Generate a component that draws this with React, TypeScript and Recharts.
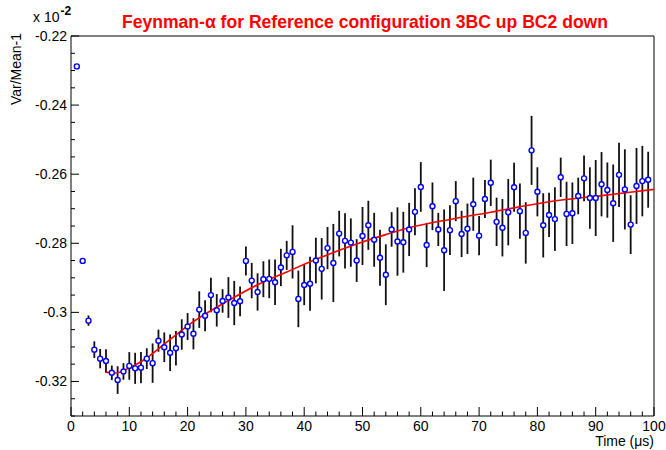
import { ComposedChart, Scatter, Line, XAxis, YAxis, ErrorBar, ReferenceLine } from 'recharts'

// Feynman-alpha measurement, one point per microsecond gate
const times = [
  1, 2, 3, 4, 5, 6, 7, 8, 9, 10, 11, 12, 13, 14, 15, 16, 17, 18, 19, 20,
  21, 22, 23, 24, 25, 26, 27, 28, 29, 30, 31, 32, 33, 34, 35, 36, 37, 38, 39, 40,
  41, 42, 43, 44, 45, 46, 47, 48, 49, 50, 51, 52, 53, 54, 55, 56, 57, 58, 59, 60,
  61, 62, 63, 64, 65, 66, 67, 68, 69, 70, 71, 72, 73, 74, 75, 76, 77, 78, 79, 80,
  81, 82, 83, 84, 85, 86, 87, 88, 89, 90, 91, 92, 93, 94, 95, 96, 97, 98, 99,
]

const varMean = [
  -0.2288, -0.2851, -0.3024, -0.3108, -0.3134, -0.3141, -0.3175, -0.3196, -0.3171, -0.3155,
  -0.3162, -0.316, -0.3134, -0.3147, -0.3082, -0.3101, -0.3117, -0.3104, -0.3064, -0.3041,
  -0.3062, -0.2992, -0.301, -0.295, -0.2994, -0.2967, -0.2957, -0.2973, -0.2968, -0.2851,
  -0.2908, -0.2941, -0.2904, -0.2903, -0.2913, -0.287, -0.2835, -0.2825, -0.2961, -0.2921,
  -0.2917, -0.285, -0.2874, -0.2814, -0.2857, -0.2772, -0.2793, -0.2798, -0.285, -0.2779,
  -0.2748, -0.279, -0.2842, -0.2891, -0.276, -0.2795, -0.2797, -0.276, -0.2709, -0.2637,
  -0.2805, -0.2693, -0.276, -0.282, -0.2762, -0.2678, -0.2773, -0.2758, -0.2687, -0.2778,
  -0.2672, -0.2625, -0.2738, -0.2755, -0.271, -0.2638, -0.2707, -0.277, -0.2531, -0.2651,
  -0.2748, -0.2718, -0.273, -0.2609, -0.2715, -0.2713, -0.2663, -0.2612, -0.2669, -0.2669,
  -0.2629, -0.2646, -0.2684, -0.2602, -0.2644, -0.2746, -0.2634, -0.262, -0.2616,
]

const varMeanErr = [
  0.0003, 0.0008, 0.0015, 0.0024, 0.0028, 0.0034, 0.0021, 0.004, 0.0024, 0.004,
  0.0045, 0.0045, 0.003, 0.0057, 0.0032, 0.0043, 0.0053, 0.005, 0.0044, 0.0039,
  0.0045, 0.0053, 0.0045, 0.005, 0.0047, 0.0034, 0.0059, 0.0064, 0.0043, 0.0042,
  0.0051, 0.0054, 0.0052, 0.0056, 0.0066, 0.0054, 0.0042, 0.0077, 0.0082, 0.0058,
  0.0078, 0.0066, 0.0089, 0.0061, 0.0113, 0.0066, 0.008, 0.007, 0.0062, 0.0084,
  0.0071, 0.0078, 0.0081, 0.0088, 0.005, 0.0099, 0.0088, 0.0077, 0.0068, 0.0072,
  0.0064, 0.0069, 0.0048, 0.0118, 0.0072, 0.0058, 0.0067, 0.0073, 0.0077, 0.0057,
  0.0055, 0.0067, 0.007, 0.0083, 0.0096, 0.0071, 0.008, 0.0089, 0.01, 0.0071,
  0.0093, 0.0064, 0.0092, 0.0057, 0.0093, 0.0089, 0.0053, 0.0066, 0.0089, 0.011,
  0.0093, 0.008, 0.0112, 0.0093, 0.0116, 0.0085, 0.011, 0.0102, 0.0081,
]

// fitted curve
const fitTimes = [6, 7.5, 10, 13, 16, 21, 27, 32, 37, 43, 49, 54, 59, 65, 72, 82, 91, 100]
const fitValues = [
  -0.3173, -0.3176, -0.3161, -0.3132, -0.3092, -0.3027, -0.2966, -0.292, -0.2883,
  -0.284, -0.2802, -0.2775, -0.2751, -0.2731, -0.271, -0.268, -0.2662, -0.2644,
]

const xTicks = [
  0, 2, 4, 6, 8, 10, 12, 14, 16, 18, 20, 22, 24, 26, 28, 30, 32, 34, 36, 38, 40, 42, 44, 46, 48, 50,
  52, 54, 56, 58, 60, 62, 64, 66, 68, 70, 72, 74, 76, 78, 80, 82, 84, 86, 88, 90, 92, 94, 96, 98, 100,
]
const xMajor = [0, 10, 20, 30, 40, 50, 60, 70, 80, 90, 100]

const yTicks = [
  -0.33, -0.325, -0.32, -0.315, -0.31, -0.305, -0.3, -0.295, -0.29, -0.285, -0.28, -0.275,
  -0.27, -0.265, -0.26, -0.255, -0.25, -0.245, -0.24, -0.235, -0.23, -0.225, -0.22,
]
const yMajor = [-0.32, -0.3, -0.28, -0.26, -0.24, -0.22]
const yMajorLabels = ['-0.32', '-0.3', '-0.28', '-0.26', '-0.24', '-0.22']

const points = times.map((t, i) => ({ x: t, y: varMean[i], err: varMeanErr[i] }))
const fit = fitTimes.map((t, i) => ({ x: t, y: fitValues[i] }))

const FONT = '"Liberation Sans", Arial, Helvetica, sans-serif'

const XTick = ({ x, y, payload }: any) => {
  const major = xMajor.includes(payload.value)
  return (
    <g>
      <line x1={x} y1={y} x2={x} y2={y - (major ? 9 : 4.5)} stroke="#000" strokeWidth={1} />
      {major && (
        <text x={x} y={y + 15} textAnchor="middle" fontSize={14} fontFamily={FONT} fill="#000">
          {payload.value}
        </text>
      )}
    </g>
  )
}

const YTick = ({ x, y, payload }: any) => {
  const idx = yMajor.findIndex(v => Math.abs(v - payload.value) < 1e-6)
  const major = idx >= 0
  return (
    <g>
      <line x1={x} y1={y} x2={x + (major ? 8 : 4)} y2={y} stroke="#000" strokeWidth={1} />
      {major && (
        <text x={x - 4} y={y + 5} textAnchor="end" fontSize={14} fontFamily={FONT} fill="#000">
          {yMajorLabels[idx]}
        </text>
      )}
    </g>
  )
}

const Marker = ({ cx, cy }: any) => (
  <circle cx={cx} cy={cy} r={2.5} fill="#fff" stroke="#0000ff" strokeWidth={1.4} />
)

export default function App() {
  return (
    <div style={{ position: 'absolute', left: 0, top: 0, width: 666, height: 450, background: '#fff' }}>
      <ComposedChart width={666} height={450} margin={{ top: 36, right: 12, bottom: 0, left: 0 }}>
        <XAxis
          type="number"
          dataKey="x"
          domain={[0, 100]}
          ticks={xTicks}
          interval={0}
          allowDataOverflow
          height={34}
          tickSize={0}
          tickMargin={0}
          tickLine={false}
          axisLine={{ stroke: '#000', strokeWidth: 1 }}
          tick={<XTick />}
        />
        <YAxis
          type="number"
          domain={[-0.33, -0.22]}
          ticks={yTicks}
          interval={0}
          allowDataOverflow
          width={71}
          tickSize={0}
          tickMargin={0}
          tickLine={false}
          axisLine={{ stroke: '#000', strokeWidth: 1 }}
          tick={<YTick />}
        />
        <ReferenceLine y={-0.22} stroke="#000" strokeWidth={1} />
        <ReferenceLine x={100} stroke="#000" strokeWidth={1} />
        <Scatter data={points} dataKey="y" shape={<Marker />} isAnimationActive={false}>
          <ErrorBar dataKey="err" direction="y" width={0} stroke="#111" strokeWidth={1.8} isAnimationActive={false} />
        </Scatter>
        <Line
          data={fit}
          dataKey="y"
          type="monotone"
          stroke="#ff0000"
          strokeWidth={1.6}
          dot={false}
          activeDot={false}
          isAnimationActive={false}
        />
      </ComposedChart>
      <svg width={666} height={450} style={{ position: 'absolute', left: 0, top: 0, pointerEvents: 'none' }}>
        <text
          x={365}
          y={28}
          textAnchor="middle"
          fontSize={17.5}
          fontWeight="bold"
          fontFamily={FONT}
          fill="#ff0000"
          textLength={486}
          lengthAdjust="spacingAndGlyphs"
        >
          Feynman-α for Reference configuration 3BC up BC2 down
        </text>
        <text x={33} y={22} fontSize={14} fontFamily={FONT} fill="#000">
          x 10
          <tspan dx={1} dy={-7} fontSize={12} fontWeight="bold">-2</tspan>
        </text>
        <text
          x={0}
          y={0}
          transform="translate(21 33) rotate(-90)"
          textAnchor="end"
          fontSize={14}
          fontFamily={FONT}
          fill="#000"
        >
          Var/Mean-1
        </text>
        <text x={654} y={446} textAnchor="end" fontSize={14} fontFamily={FONT} fill="#000">
          Time (μs)
        </text>
      </svg>
    </div>
  )
}
